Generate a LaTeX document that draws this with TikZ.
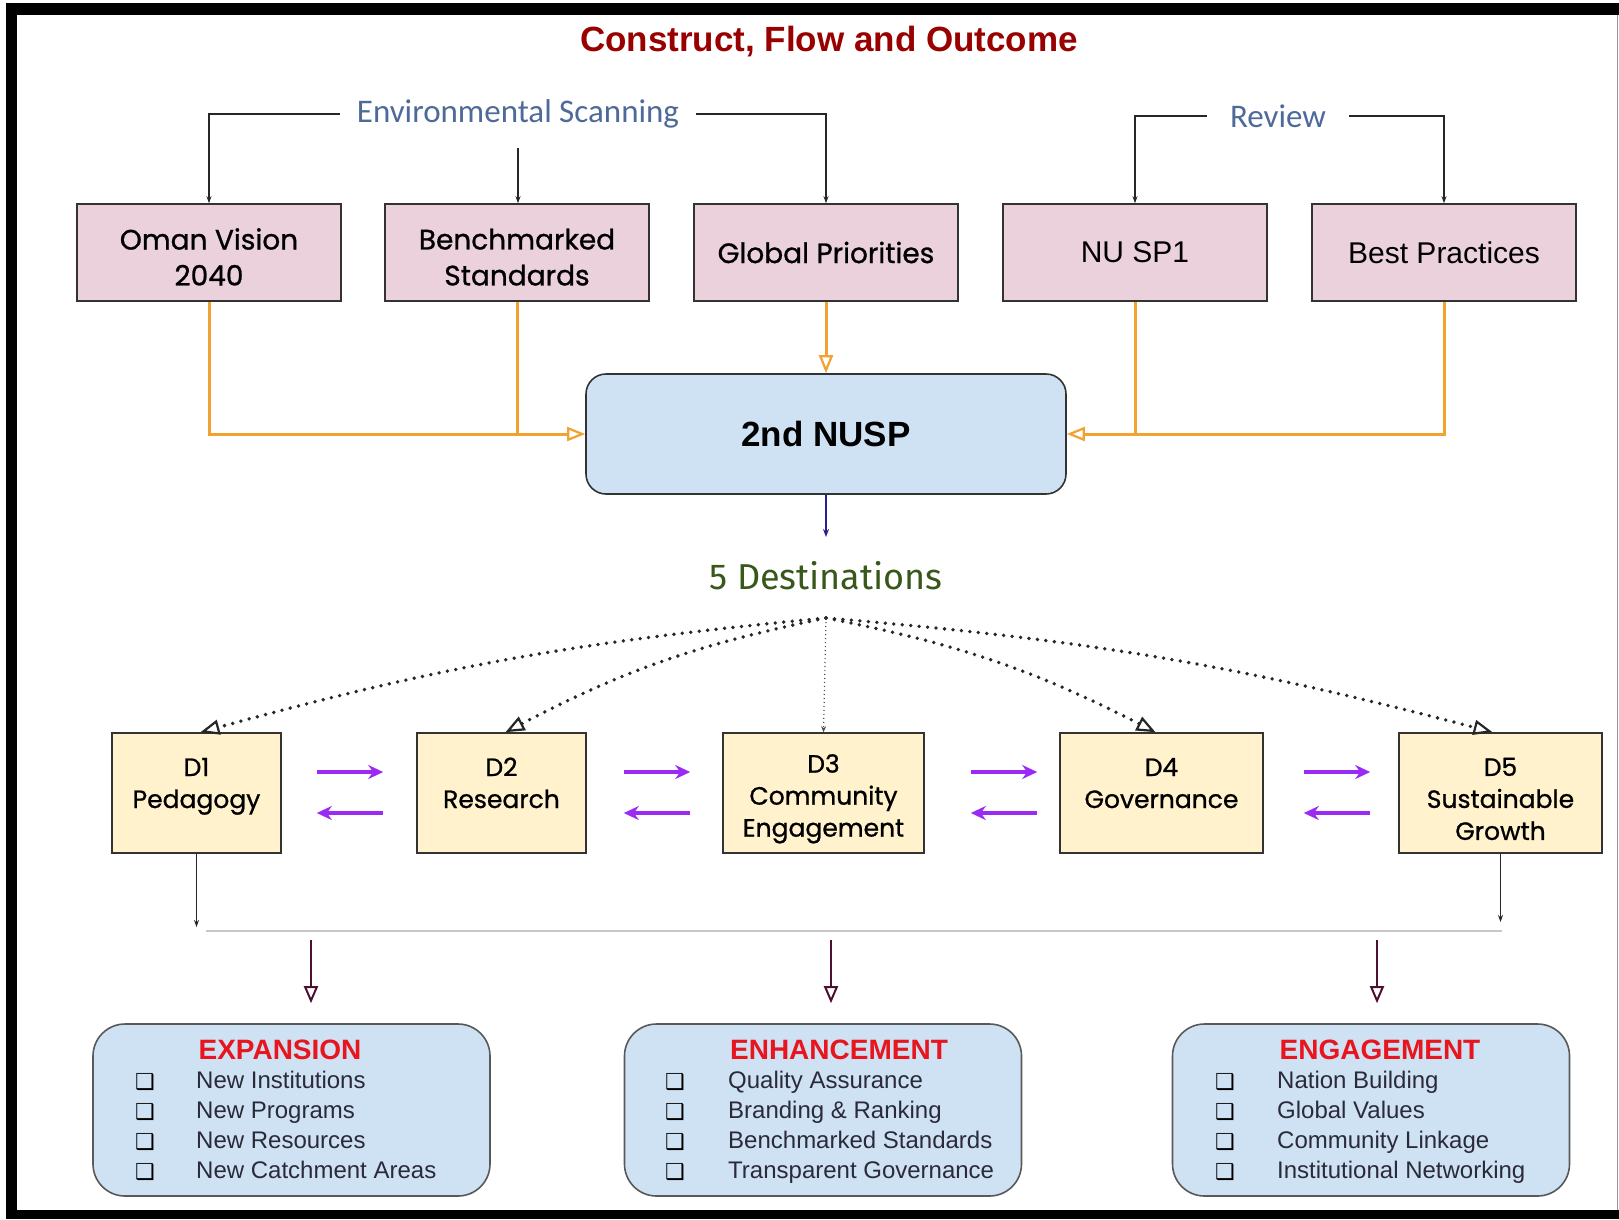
\documentclass[tikz,border=0pt]{standalone}
\usepackage{fontspec}
\setmainfont{Liberation Sans}
\newfontfamily\geofont[FakeBold=0.9]{Poppins}
\newfontfamily\calfont{Carlito}
\newfontfamily\firafont{Fira Sans}
\newfontfamily\dejafont{DejaVu Sans}
\usetikzlibrary{arrows.meta}
\definecolor{pinkc}{HTML}{EAD1DC}
\definecolor{bluec}{HTML}{CFE2F3}
\definecolor{yelc}{HTML}{FFF2CC}
\definecolor{orc}{HTML}{F2A230}
\definecolor{purc}{HTML}{9B2BF2}
\definecolor{titc}{HTML}{990000}
\definecolor{redc}{HTML}{E8141E}
\definecolor{slatec}{HTML}{4D6A98}
\definecolor{greenc}{HTML}{38571A}
\definecolor{maroonc}{HTML}{4C1130}
\definecolor{navyc}{HTML}{28208F}
\definecolor{itemc}{HTML}{2A2A3A}
\newcommand{\topstrut}{\rule{0pt}{30pt}}
\begin{document}
\begin{tikzpicture}[x=1pt,y=-1pt,
  pinkbox/.style={draw=black!80, line width=1.6pt, fill=pinkc, minimum width=264pt, minimum height=97pt, inner sep=0pt, align=center},
  geotext/.style={font=\geofont\fontsize{28}{36}\selectfont},
  arialtext/.style={font=\fontsize{30}{36}\selectfont},
  scanlabel/.style={font=\calfont\fontsize{33}{36}\selectfont, text=slatec, inner ysep=20pt},
  toparr/.style={draw=black!85, line width=1.3pt, -{Stealth[length=7pt,width=5pt]}},
  orline/.style={draw=orc, line width=3pt},
  orarr/.style={orline, -{Triangle[length=18pt,width=14pt,fill=white,line width=2.2pt]}},
  navyarr/.style={draw=navyc, line width=1.5pt, -{Stealth[length=8pt,width=6pt]}},
  dbox/.style={draw=black!80, line width=1.6pt, fill=yelc, minimum height=120pt, align=center, inner sep=0pt, font=\geofont\fontsize{25}{32}\selectfont},
  dotarr/.style={draw=black!85, line width=3.8pt, dash pattern=on 0pt off 8.5pt, line cap=round, -{Triangle[open,length=19pt,width=15pt,line width=2.2pt]}},
  dotthin/.style={draw=black!70, line width=1.2pt, dash pattern=on 1pt off 3pt, -{Stealth[length=6pt,width=5pt]}},
  purarr/.style={draw=purc, line width=3.5pt, -{Stealth[length=15pt,width=14pt]}},
  smallarr/.style={draw=black!85, line width=1.3pt, -{Stealth[length=7pt,width=5pt]}},
  outarr/.style={draw=maroonc, line width=2.4pt, -{Triangle[open,length=17pt,width=14pt,line width=2pt]}},
  outbox/.style={draw=black!65, line width=1.6pt, fill=bluec, rounded corners=32pt, minimum width=397pt, minimum height=172pt},
  outtitle/.style={font=\bfseries\fontsize{28}{30}\selectfont, text=redc},
  item/.style={anchor=west, font=\fontsize{24}{26}\selectfont, text=itemc, text height=18pt, text depth=5pt, inner sep=0pt},
  chk/.style={font=\dejafont\bfseries\fontsize{22}{24}\selectfont, text=black, inner sep=0pt}
]
\useasboundingbox (0,0) rectangle (1619,1219);
\fill[white] (0,0) rectangle (1619,1219);
% frame
\fill[black] (6,3) rectangle (1619,15);
\fill[black] (6,3) rectangle (17,1219);
\fill[black] (6,1210) rectangle (1619,1219);
\draw[black!40, line width=1pt] (1617,15) -- (1617,1210);

% title
\node[font=\bfseries\fontsize{35}{40}\selectfont, text=titc] (title) at (829,42) {Construct, Flow and Outcome};

% top boxes
\node[pinkbox, geotext] (oman) at (209,252.5) {\topstrut Oman Vision\\2040};
\node[pinkbox, geotext] (bench) at (517,252.5) {\topstrut Benchmarked\\Standards};
\node[pinkbox, geotext] (global) at (826,252.5) {Global Priorities};
\node[pinkbox, arialtext] (nu) at (1135,252.5) {NU SP1};
\node[pinkbox, arialtext] (best) at (1444,252.5) {Best Practices};

% scanning / review labels
\node[scanlabel, inner xsep=17pt] (es) at (518,114) {Environmental Scanning};
\node[scanlabel, inner xsep=23pt] (rev) at (1278,116) {Review};
\draw[toparr] (es.west) -| (oman.north);
\draw[toparr] (es.east) -| (global.north);
\draw[toparr] (es.south) -- (es.south |- bench.north);
\draw[toparr] (rev.west) -| (nu.north);
\draw[toparr] (rev.east) -| (best.north);

% 2nd NUSP
\node[draw=black!80, line width=1.6pt, fill=bluec, rounded corners=20pt, minimum width=480pt, minimum height=120pt, font=\bfseries\fontsize{35}{40}\selectfont] (nusp) at (826,434) {2nd NUSP};

\draw[orline] (bench.south) -- (bench.south |- nusp.west);
\draw[orline] (nu.south) -- (nu.south |- nusp.east);
\draw[orarr] (oman.south) |- (nusp.west);
\draw[orarr] (best.south) |- (nusp.east);
\draw[orarr] (global.south) -- (nusp.north);

% destinations
\coordinate (destTop) at (826,537);
\draw[navyarr] (nusp.south) -- (destTop);
\node[font=\firafont\fontsize{36}{40}\selectfont, text=greenc] (dest) at (826,576) {5 Destinations};
\coordinate (hub) at (826,618);

\node[dbox, minimum width=169pt] (d1) at (196.5,793) {\topstrut D1\\Pedagogy\\\mbox{}};
\node[dbox, minimum width=169pt] (d2) at (501.5,793) {\topstrut D2\\Research\\\mbox{}};
\node[dbox, minimum width=201pt] (d3) at (823.5,793) {\topstrut D3\\Community\\Engagement};
\node[dbox, minimum width=203pt] (d4) at (1161.5,793) {\topstrut D4\\Governance\\\mbox{}};
\node[dbox, minimum width=203pt] (d5) at (1500.5,793) {\topstrut D5\\Sustainable\\Growth};

\draw[dotarr] (hub) to[bend right=5] ([xshift=4pt]d1.north);
\draw[dotarr] (hub) to[bend right=8] ([xshift=4pt]d2.north);
\draw[dotarr] (hub) to[bend left=8] ([xshift=-6pt]d4.north);
\draw[dotarr] (hub) to[bend left=5] ([xshift=-8pt]d5.north);
\draw[dotthin] (hub) -- (d3.north);

% purple arrows
\draw[purarr, shorten <=35pt, shorten >=33pt] ([yshift=21pt]d1.east) -- ([yshift=21pt]d2.west);
\draw[purarr, shorten <=33pt, shorten >=35pt] ([yshift=-20pt]d2.west) -- ([yshift=-20pt]d1.east);
\draw[purarr, shorten <=37pt, shorten >=32pt] ([yshift=21pt]d2.east) -- ([yshift=21pt]d3.west);
\draw[purarr, shorten <=32pt, shorten >=37pt] ([yshift=-20pt]d3.west) -- ([yshift=-20pt]d2.east);
\draw[purarr, shorten <=46pt, shorten >=22pt] ([yshift=21pt]d3.east) -- ([yshift=21pt]d4.west);
\draw[purarr, shorten <=22pt, shorten >=46pt] ([yshift=-20pt]d4.west) -- ([yshift=-20pt]d3.east);
\draw[purarr, shorten <=40pt, shorten >=28pt] ([yshift=21pt]d4.east) -- ([yshift=21pt]d5.west);
\draw[purarr, shorten <=28pt, shorten >=40pt] ([yshift=-20pt]d5.west) -- ([yshift=-20pt]d4.east);

% bus
\coordinate (busL) at (206,931);
\coordinate (busR) at (1502,931);
\draw[draw=black!22, line width=2.5pt] (busL) -- (busR);
\draw[smallarr, shorten >=4pt] (d1.south) -- (d1.south |- busL);
\draw[smallarr, shorten >=9pt] (d5.south) -- (d5.south |- busR);

% outcome boxes
\node[outbox] (exp) at (291.5,1110) {};
\node[outbox] (enh) at (823,1110) {};
\node[outbox] (eng) at (1371,1110) {};

\coordinate (o1) at (311,940);
\coordinate (o2) at (831,940);
\coordinate (o3) at (1377,940);
\draw[outarr, shorten >=20pt] (o1) -- (o1 |- exp.north);
\draw[outarr, shorten >=20pt] (o2) -- (o2 |- enh.north);
\draw[outarr, shorten >=20pt] (o3) -- (o3 |- eng.north);

\node[outtitle] (expT) at (280,1050) {EXPANSION};
\node[outtitle] (enhT) at (839,1050) {ENHANCEMENT};
\node[outtitle] (engT) at (1380,1050) {ENGAGEMENT};

\foreach \t [count=\i] in {New Institutions, New Programs, New Resources, New Catchment Areas}{
  \node[chk] (expB\i) at (145,1052+30*\i) {❑};
  \node[item] (expI\i) at (196,1052+30*\i) {\t};
}
\foreach \t [count=\i] in {Quality Assurance, Branding \& Ranking, Benchmarked Standards, Transparent Governance}{
  \node[chk] (enhB\i) at (675,1052+30*\i) {❑};
  \node[item] (enhI\i) at (728,1052+30*\i) {\t};
}
\foreach \t [count=\i] in {Nation Building, Global Values, Community Linkage, Institutional Networking}{
  \node[chk] (engB\i) at (1225,1052+30*\i) {❑};
  \node[item] (engI\i) at (1277,1052+30*\i) {\t};
}
\end{tikzpicture}
\end{document}
